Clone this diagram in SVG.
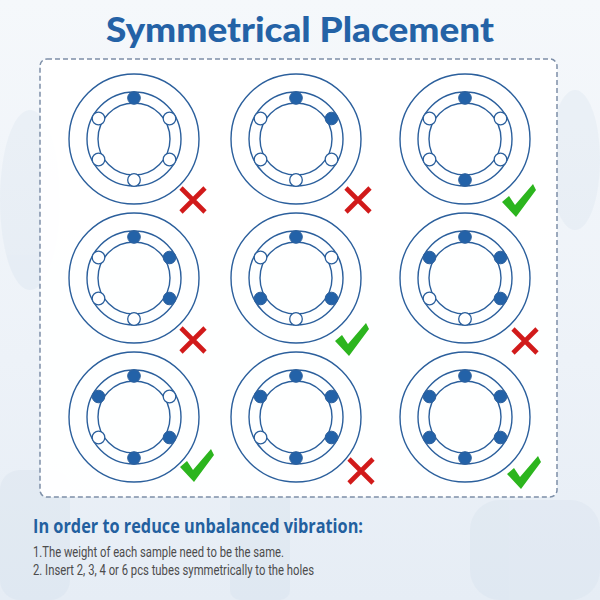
<svg xmlns="http://www.w3.org/2000/svg" xmlns:xlink="http://www.w3.org/1999/xlink" width="600" height="600" viewBox="0 0 600 600">
<style>
.ring{fill:none;stroke:#2b5f9c;stroke-width:1.4}
.hole{fill:#ffffff;stroke:#2b5f9c;stroke-width:1.3}
.tube{fill:#2362a8;stroke:#2b5f9c;stroke-width:1}
.cross{stroke:#d11a1a;stroke-width:4.6;stroke-linecap:butt;fill:none}
.check{fill:#2cb51e}
.title{font-family:Lato,"Open Sans","Liberation Sans",sans-serif;font-weight:900;font-size:35px;fill:#2462a6}
.sub{font-family:"Open Sans","Liberation Sans",sans-serif;font-weight:700;font-size:19px;fill:#23609f}
.note{font-family:Roboto,"Liberation Sans",sans-serif;font-size:14.5px;fill:#4c4c4c}
</style>
<defs>
<linearGradient id="bg" x1="0" y1="0" x2="0" y2="1">
<stop offset="0" stop-color="#f5f8fb"/>
<stop offset="0.6" stop-color="#edf2f8"/>
<stop offset="1" stop-color="#e6edf5"/>
</linearGradient>
<g id="base">
<circle class="ring" r="65"/>
<circle class="ring" r="47"/>
<circle class="ring" r="36"/>
</g>
<path id="x" class="cross" d="M-12,-12 L12,12 M12,-12 L-12,12"/>
<path id="ok" class="check" d="M0,18 L7,12 L13,21 L31,0 L34,6 L14,33 Z"/>
</defs>
<rect width="600" height="600" fill="url(#bg)"/>
<g opacity="0.22" fill="#cbd9e8">
<rect x="0" y="470" width="70" height="130" rx="20"/>
<rect x="470" y="500" width="130" height="100" rx="30"/>
<rect x="230" y="490" width="60" height="110" rx="10"/>
<ellipse cx="30" cy="200" rx="30" ry="90"/>
<ellipse cx="575" cy="160" rx="25" ry="70"/>
</g>
<rect x="40" y="59" width="517" height="438" rx="7" fill="#ffffff" fill-opacity="0.94" stroke="#7d8fa8" stroke-width="1.5" stroke-dasharray="5 3"/>
<text class="title" x="300" y="42" text-anchor="middle" textLength="388" lengthAdjust="spacingAndGlyphs">Symmetrical Placement</text>

<g id="r1c1" transform="translate(134,139)">
<use xlink:href="#base"/>
<circle class="tube" cx="0" cy="-41" r="6.3"/>
<circle class="hole" cx="35.5" cy="-20.5" r="6.3"/>
<circle class="hole" cx="35.5" cy="20.5" r="6.3"/>
<circle class="hole" cx="0" cy="41" r="6.3"/>
<circle class="hole" cx="-35.5" cy="20.5" r="6.3"/>
<circle class="hole" cx="-35.5" cy="-20.5" r="6.3"/>
<use xlink:href="#x" x="59" y="61"/>
</g>
<g id="r1c2" transform="translate(296,139)">
<use xlink:href="#base"/>
<circle class="tube" cx="0" cy="-41" r="6.3"/>
<circle class="tube" cx="35.5" cy="-20.5" r="6.3"/>
<circle class="hole" cx="35.5" cy="20.5" r="6.3"/>
<circle class="hole" cx="0" cy="41" r="6.3"/>
<circle class="hole" cx="-35.5" cy="20.5" r="6.3"/>
<circle class="hole" cx="-35.5" cy="-20.5" r="6.3"/>
<use xlink:href="#x" x="62" y="61"/>
</g>
<g id="r1c3" transform="translate(465,139)">
<use xlink:href="#base"/>
<circle class="tube" cx="0" cy="-41" r="6.3"/>
<circle class="hole" cx="35.5" cy="-20.5" r="6.3"/>
<circle class="hole" cx="35.5" cy="20.5" r="6.3"/>
<circle class="tube" cx="0" cy="41" r="6.3"/>
<circle class="hole" cx="-35.5" cy="20.5" r="6.3"/>
<circle class="hole" cx="-35.5" cy="-20.5" r="6.3"/>
<use xlink:href="#ok" x="37" y="45"/>
</g>

<g id="r2c1" transform="translate(134,278)">
<use xlink:href="#base"/>
<circle class="tube" cx="0" cy="-41" r="6.3"/>
<circle class="tube" cx="35.5" cy="-20.5" r="6.3"/>
<circle class="tube" cx="35.5" cy="20.5" r="6.3"/>
<circle class="hole" cx="0" cy="41" r="6.3"/>
<circle class="hole" cx="-35.5" cy="20.5" r="6.3"/>
<circle class="hole" cx="-35.5" cy="-20.5" r="6.3"/>
<use xlink:href="#x" x="59" y="62"/>
</g>
<g id="r2c2" transform="translate(296,278)">
<use xlink:href="#base"/>
<circle class="tube" cx="0" cy="-41" r="6.3"/>
<circle class="hole" cx="35.5" cy="-20.5" r="6.3"/>
<circle class="tube" cx="35.5" cy="20.5" r="6.3"/>
<circle class="hole" cx="0" cy="41" r="6.3"/>
<circle class="tube" cx="-35.5" cy="20.5" r="6.3"/>
<circle class="hole" cx="-35.5" cy="-20.5" r="6.3"/>
<use xlink:href="#ok" x="39" y="45"/>
</g>
<g id="r2c3" transform="translate(465,278)">
<use xlink:href="#base"/>
<circle class="tube" cx="0" cy="-41" r="6.3"/>
<circle class="tube" cx="35.5" cy="-20.5" r="6.3"/>
<circle class="tube" cx="35.5" cy="20.5" r="6.3"/>
<circle class="hole" cx="0" cy="41" r="6.3"/>
<circle class="hole" cx="-35.5" cy="20.5" r="6.3"/>
<circle class="tube" cx="-35.5" cy="-20.5" r="6.3"/>
<use xlink:href="#x" x="60" y="63"/>
</g>

<g id="r3c1" transform="translate(134,417)">
<use xlink:href="#base"/>
<circle class="tube" cx="0" cy="-41" r="6.3"/>
<circle class="hole" cx="35.5" cy="-20.5" r="6.3"/>
<circle class="tube" cx="35.5" cy="20.5" r="6.3"/>
<circle class="tube" cx="0" cy="41" r="6.3"/>
<circle class="hole" cx="-35.5" cy="20.5" r="6.3"/>
<circle class="tube" cx="-35.5" cy="-20.5" r="6.3"/>
<use xlink:href="#ok" x="46" y="32"/>
</g>
<g id="r3c2" transform="translate(296,417)">
<use xlink:href="#base"/>
<circle class="tube" cx="0" cy="-41" r="6.3"/>
<circle class="tube" cx="35.5" cy="-20.5" r="6.3"/>
<circle class="tube" cx="35.5" cy="20.5" r="6.3"/>
<circle class="tube" cx="0" cy="41" r="6.3"/>
<circle class="hole" cx="-35.5" cy="20.5" r="6.3"/>
<circle class="tube" cx="-35.5" cy="-20.5" r="6.3"/>
<use xlink:href="#x" x="65" y="54"/>
</g>
<g id="r3c3" transform="translate(465,417)">
<use xlink:href="#base"/>
<circle class="tube" cx="0" cy="-41" r="6.3"/>
<circle class="tube" cx="35.5" cy="-20.5" r="6.3"/>
<circle class="tube" cx="35.5" cy="20.5" r="6.3"/>
<circle class="tube" cx="0" cy="41" r="6.3"/>
<circle class="tube" cx="-35.5" cy="20.5" r="6.3"/>
<circle class="tube" cx="-35.5" cy="-20.5" r="6.3"/>
<use xlink:href="#ok" x="42" y="39"/>
</g>

<text class="sub" x="33" y="533" textLength="330" lengthAdjust="spacingAndGlyphs">In order to reduce unbalanced vibration:</text>
<text class="note" x="33" y="557" textLength="251" lengthAdjust="spacingAndGlyphs">1.The weight of each sample need to be the same.</text>
<text class="note" x="33" y="575" textLength="281" lengthAdjust="spacingAndGlyphs">2. Insert 2, 3, 4 or 6 pcs tubes symmetrically to the holes</text>
</svg>
